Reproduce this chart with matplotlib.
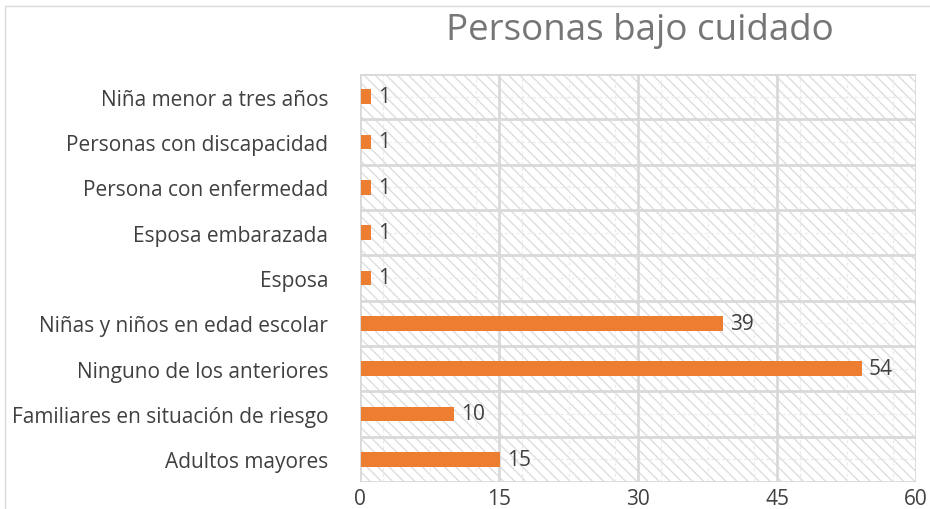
import numpy as np
import matplotlib.pyplot as plt
from matplotlib.patches import Rectangle

plt.rcParams['font.family'] = ['Open Sans', 'DejaVu Sans']

# Data (bottom to top)
categorias = ['Adultos mayores', 'Familiares en situación de riesgo',
              'Ninguno de los anteriores', 'Niñas y niños en edad escolar',
              'Esposa', 'Esposa embarazada', 'Persona con enfermedad',
              'Personas con discapacidad', 'Niña menor a tres años']
valores = [15, 10, 54, 39, 1, 1, 1, 1, 1]
xticks = [0, 15, 30, 45, 60]

grid_col = '#d9d9d9'
text_col = '#404040'

fig = plt.figure(figsize=(9.3, 5.1), dpi=100)
fig.patches.append(Rectangle((5 / 930, -0.1), 1.0, 1 - 7 / 510 + 0.1, transform=fig.transFigure,
                             fill=False, edgecolor=grid_col, linewidth=1))
ax = fig.add_axes([360 / 930, 27 / 510, 556 / 930, 408 / 510])

y = np.arange(len(categorias))

# hatched background
ax.add_patch(Rectangle((0, 0), 1, 1, transform=ax.transAxes, facecolor='white',
                       edgecolor='#dedede', hatch='\\\\\\', linewidth=0, zorder=0))

# faint minor dashed grid
for xm in np.arange(2.5, 60, 5):
    ax.axvline(xm, color='#ebebeb', lw=0.8, ls=(0, (3, 2)), zorder=0.5)
for ym in y:
    ax.axhline(ym, color='#ebebeb', lw=0.8, ls=(0, (3, 2)), zorder=0.5)

# major grid
for xv in xticks:
    ax.axvline(xv, color=grid_col, lw=2, zorder=1)
for yb in np.arange(-0.5, len(categorias), 1):
    ax.axhline(yb, color=grid_col, lw=2, zorder=1)

ax.barh(y, valores, height=0.32, left=0.15, color='#ED7D31', zorder=2)
for yi, v in zip(y, valores):
    ax.text(v + 0.9, yi, str(v), va='center', ha='left', fontsize=15, color=text_col, zorder=3)

ax.set_xlim(0, 60)
ax.set_ylim(-0.5, len(categorias) - 0.5)
ax.set_xticks(xticks)
ax.set_yticks(y)
ax.set_yticklabels(categorias)
ax.tick_params(length=0, labelsize=15, labelcolor=text_col)
ax.tick_params(axis='x', pad=4)
ax.tick_params(axis='y', pad=23)
for s in ax.spines.values():
    s.set_visible(False)

fig.text(640 / 930, 1 - 31 / 510, 'Personas bajo cuidado', ha='center', va='center',
         fontsize=26.5, color='#767676')

fig.savefig('out.png', dpi=100)
